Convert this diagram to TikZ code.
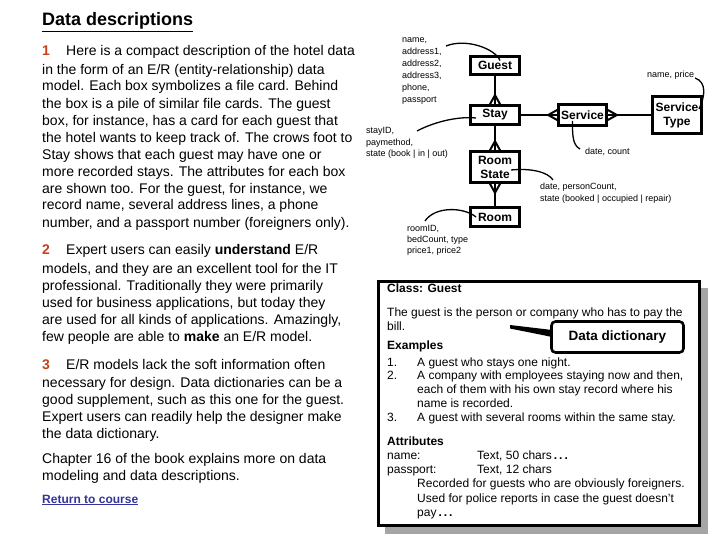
\documentclass[tikz,border=0pt]{standalone}
\usepackage{fontspec}
\setmainfont{Liberation Sans}
\usetikzlibrary{positioning,calc,decorations.markings}
\definecolor{numred}{RGB}{200,64,24}
\definecolor{linkblue}{RGB}{51,51,153}
\definecolor{shadowgray}{RGB}{165,165,165}
\newcommand{\pnum}[1]{\makebox[24pt][l]{\textcolor{numred}{\bfseries #1}}}
% multi-line nodes sit on the baseline of their last line
\tikzset{
  title/.style={anchor=base west,inner sep=0pt,font=\fontsize{18}{21}\selectfont\bfseries},
  para/.style={anchor=base west,align=left,inner sep=0pt,
    font=\fontsize{14}{17}\selectfont},
  entity/.style={draw,line width=2.6pt,fill=white,minimum width=49.5pt,
    inner sep=1pt,align=center,font=\fontsize{12}{14}\selectfont\bfseries},
  rel/.style={line width=2.6pt},
  crowfoot/.style={rel,postaction={decorate},decoration={markings,
    mark=at position 0.999 with {\draw[line width=2pt] (-9pt,0pt) -- (0pt,5pt)
      (-9pt,0pt) -- (0pt,-5pt);}}},
  attr/.style={anchor=base west,align=left,inner sep=0pt,
    font=\fontsize{9}{11.5}\selectfont},
  attrline/.style={line width=1.3pt},
  card/.style={draw,line width=2.6pt,fill=white},
  cardtext/.style={anchor=base west,align=left,inner sep=0pt,
    font=\fontsize{12}{13.8}\selectfont},
  callout/.style={draw,line width=2.6pt,fill=white,rounded corners=4pt,
    minimum width=132pt,minimum height=31pt,
    font=\fontsize{13.5}{16}\selectfont\bfseries},
}
\begin{document}
\begin{tikzpicture}[x=1pt,y=-1pt]
  \useasboundingbox (0,0) rectangle (720,540);
  % left column
  \node[title] (title) at (42,26) {\underline{Data descriptions}};
  \node[para] (p1) at (42,227) {\pnum{1}Here is a compact description of the hotel data\\[2pt]
    in the form of an E/R (entity-relationship) data\\
    model. Each box symbolizes a file card. Behind\\
    the box is a pile of similar file cards. The guest\\
    box, for instance, has a card for each guest that\\
    the hotel wants to keep track of. The crows foot to\\
    Stay shows that each guest may have one or\\
    more recorded stays. The attributes for each box\\
    are shown too. For the guest, for instance, we\\
    record name, several address lines, a phone\\
    number, and a passport number (foreigners only).};
  \node[para] (p2) at (42,341) {\pnum{2}Expert users can easily \textbf{understand} E/R\\[2pt]
    models, and they are an excellent tool for the IT\\
    professional. Traditionally they were primarily\\
    used for business applications, but today they\\
    are used for all kinds of applications. Amazingly,\\
    few people are able to \textbf{make} an E/R model.};
  \node[para] (p3) at (42,438) {\pnum{3}E/R models lack the soft information often\\[1pt]
    necessary for design. Data dictionaries can be a\\
    good supplement, such as this one for the guest.\\
    Expert users can readily help the designer make\\
    the data dictionary.};
  \node[para] (p4) at (42,480) {Chapter 16 of the book explains more on data\\
    modeling and data descriptions.};
  \node[para,font=\fontsize{12}{14}\selectfont\bfseries] (back) at (42,503)
    {\textcolor{linkblue}{\underline{Return to course}}};
  % E/R model
  \node[entity,minimum height=18.5pt] (guest) at (495,65.5) {Guest};
  \node[entity,minimum height=19pt] (stay) at (495,115) {Stay};
  \node[entity,minimum height=31pt] (rstate) at (495,167) {Room\\State};
  \node[entity,minimum height=19pt] (room) at (495,217) {Room};
  \node[entity,minimum width=48pt,minimum height=21pt] (service) at (582.5,115) {Service};
  \node[entity,minimum height=37pt] (stype) at (677,115) {Service\\Type};
  \draw[crowfoot] (guest) -- (stay);
  \draw[crowfoot] (stay) -- (rstate);
  \draw[crowfoot] (room) -- (rstate);
  \draw[crowfoot] (stay) -- (service);
  \draw[crowfoot] (stype) -- (service);
  % attributes
  \node[attr,font=\fontsize{9}{12}\selectfont] (guestattr) at (402,102.5)
    {name,\\address1,\\address2,\\address3,\\phone,\\passport};
  \node[attr] (stypeattr) at (647,78) {name, price};
  \node[attr] (stayattr) at (366,157) {stayID,\\paymethod,\\state (book | in | out)};
  \node[attr] (servattr) at (585,155) {date, count};
  \node[attr,font=\fontsize{9}{12}\selectfont] (rstateattr) at (540,202)
    {date, personCount,\\state (booked | occupied | repair)};
  \node[attr] (roomattr) at (407,254) {roomID,\\bedCount, type\\price1, price2};
  \coordinate (guestpin) at (446,46);
  \coordinate (stypepin) at (695,78);
  \coordinate (staypin) at (417,131);
  \coordinate (servpin) at (580,149);
  \coordinate (rstatepin) at (553,180);
  \coordinate (roompin) at (425,221);
  \draw[attrline] (guestpin) .. controls +(20,-8) and +(-5,-12) .. ($(guest.center)+(5,-5)$);
  \draw[attrline] (stypepin) .. controls +(12,4) and +(6,-12) .. ($(stype.center)+(22,-6)$);
  \draw[attrline] (staypin) .. controls +(15,-8) and +(-20,-2) .. ($(stay.center)+(-19,3)$);
  \draw[attrline] (servpin) .. controls +(-8,-4) and +(0,12) .. ($(service.center)+(-10,6)$);
  \draw[attrline] (rstatepin) .. controls +(-5,-8) and +(20,-2) .. ($(rstate.center)+(16,3)$);
  \draw[attrline] (roompin) .. controls +(10,-15) and +(-12,-10) .. ($(room.center)+(-19,0)$);
  % data dictionary card
  \fill[shadowgray] (385,288) rectangle (708,534);
  \draw[card] (378.5,281.5) rectangle (699.5,525.5);
  \node[cardtext] (cls) at (387,292) {\textbf{Class: Guest}};
  \node[cardtext,font=\fontsize{12}{14.5}\selectfont] (desc) at (387,330.5)
    {The guest is the person or company who has to pay the\\bill.};
  \node[cardtext] (exhead) at (387,349.5) {\textbf{Examples}};
  \node[cardtext] (exlist) at (387,421.2)
    {\makebox[30pt][l]{1.}A guest who stays one night.\\
     \makebox[30pt][l]{2.}A company with employees staying now and then,\\
     \hspace*{30pt}each of them with his own stay record where his\\
     \hspace*{30pt}name is recorded.\\
     \makebox[30pt][l]{3.}A guest with several rooms within the same stay.};
  \node[cardtext] (athead) at (387,445.5) {\textbf{Attributes}};
  \node[cardtext,font=\fontsize{12}{14.2}\selectfont] (atlist) at (387,516.3)
    {\makebox[90pt][l]{name:}Text, 50 chars\,\textbf{.\,.\,.}\\
     \makebox[90pt][l]{passport:}Text, 12 chars\\
     \hspace*{30pt}Recorded for guests who are obviously foreigners.\\
     \hspace*{30pt}Used for police reports in case the guest doesn't\\
     \hspace*{30pt}pay\,\textbf{.\,.\,.}};
  \node[callout] (ddict) at (617.5,337) {Data dictionary};
  \coordinate (ddtip) at (510,325);
  \fill (ddtip) -- ($(ddtip)+(0,3.5)$) -- ($(ddict.west)+(2,0)$) -- ($(ddict.west)+(2,-7)$) -- cycle;
\end{tikzpicture}
\end{document}
